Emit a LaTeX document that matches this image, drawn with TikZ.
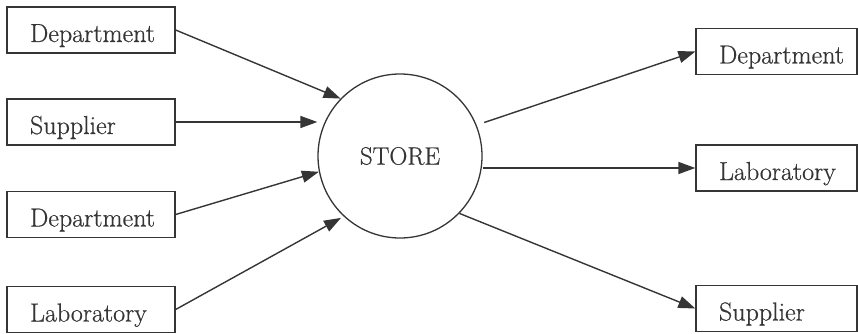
\documentclass[tikz,border=0pt]{standalone}
\usepackage{fontspec}
\setmainfont{Latin Modern Roman}[FakeBold=0.6]
\usetikzlibrary{arrows.meta}
\definecolor{ink}{HTML}{353535}
\tikzset{
  flowbox/.style={draw=ink, line width=1.3pt, rectangle, inner xsep=0pt, inner ysep=0pt,
    minimum height=46pt, text width=#1, align=left,
    text height=29pt, text depth=5pt, font=\fontsize{26}{30}\selectfont, text=ink},
  storenode/.style={draw=ink, line width=1.3pt, circle, minimum size=164pt, inner sep=0pt,
    font=\fontsize{25}{30}\selectfont, text=ink},
  flow/.style={draw=ink, line width=1.4pt, -{Triangle[length=17pt,width=12pt]}},
}
\begin{document}
\begin{tikzpicture}[x=1pt,y=-1pt]
  \useasboundingbox (0,0) rectangle (858,334);
  % sources on the left (text inset from the box's left edge)
  \node[flowbox=168pt-46pt, inner xsep=23pt] (ld1) at (91,30)    {Department};
  \node[flowbox=168pt-46pt, inner xsep=23pt] (ls)  at (91,122)   {Supplier};
  \node[flowbox=168pt-46pt, inner xsep=23pt] (ld2) at (91,214.5) {Department};
  \node[flowbox=168pt-46pt, inner xsep=23pt] (ll)  at (91,309.5) {Laboratory};
  % the store
  \node[storenode] (store) at (400,156) {STORE};
  % destinations on the right
  \node[flowbox=161pt-46pt, inner xsep=23pt] (rd)  at (776.5,51.5) {Department};
  \node[flowbox=161pt-46pt, inner xsep=23pt] (rl)  at (776.5,168)  {Laboratory};
  \node[flowbox=161pt-46pt, inner xsep=23pt] (rs)  at (776.5,308.5){Supplier};
  % incoming flows
  \draw[flow] (ld1.east) -- (store.136);
  \draw[flow] (ls.east) -- (store.west |- ls.east);
  \draw[flow] (ld2.east) -- (store.191);
  \draw[flow, shorten >=3pt] (ll.east) -- (store.227);
  % outgoing flows
  \draw[flow, shorten <=8pt] (store.22) -- (rd.west);
  \draw[flow] (store.east |- rl.west) -- (rl.west);
  \draw[flow] (store.316) -- (rs.west);
\end{tikzpicture}
\end{document}
